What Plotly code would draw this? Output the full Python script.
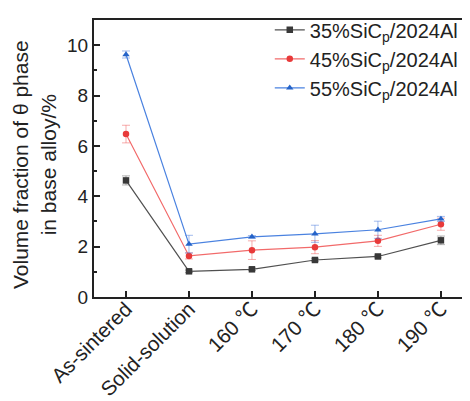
import plotly.graph_objects as go

categories = ["As-sintered", "Solid-solution", "160 ℃", "170 ℃", "180 ℃", "190 ℃"]
series_names = ["35%SiC<sub>p</sub>/2024Al", "45%SiC<sub>p</sub>/2024Al", "55%SiC<sub>p</sub>/2024Al"]
vals_35 = [4.63, 1.02, 1.10, 1.47, 1.61, 2.25]
err_35 = [0.18, 0.05, 0.05, 0.05, 0.05, 0.17]
vals_45 = [6.47, 1.63, 1.86, 1.98, 2.23, 2.89]
err_45 = [0.35, 0.12, 0.37, 0.26, 0.22, 0.24]
vals_55 = [9.63, 2.10, 2.39, 2.51, 2.67, 3.10]
err_55 = [0.14, 0.35, 0.05, 0.34, 0.34, 0.10]
y_ticks = [0, 2, 4, 6, 8, 10]

styles = [
    dict(line="#505050", marker="#383838", err="rgba(80,80,80,0.45)", symbol="square"),
    dict(line="#f26a6a", marker="#e83a3a", err="rgba(240,90,90,0.5)", symbol="circle"),
    dict(line="#4a82e0", marker="#2563c8", err="rgba(70,120,220,0.5)", symbol="triangle-up"),
]

fig = go.Figure()
for name, vals, errs, st in zip(series_names, [vals_35, vals_45, vals_55],
                                [err_35, err_45, err_55], styles):
    fig.add_trace(go.Scatter(
        x=categories, y=vals, name=name, mode="lines+markers",
        line=dict(color=st["line"], width=1.2),
        marker=dict(color=st["marker"], symbol=st["symbol"], size=6.5),
        error_y=dict(type="data", array=errs, visible=True, color=st["err"],
                     thickness=1, width=4),
    ))

fig.update_layout(
    width=462, height=393,
    margin=dict(l=86, r=2, t=2, b=104),
    paper_bgcolor="white", plot_bgcolor="white",
    font=dict(family="Liberation Sans, Arial, Noto Sans CJK SC, sans-serif", size=18, color="#222"),
    showlegend=True,
    legend=dict(x=0.47, y=1.035, xanchor="left", yanchor="top",
                bgcolor="rgba(0,0,0,0)", font=dict(size=20, color="#222"),
                tracegroupgap=0, itemwidth=30),
    xaxis=dict(type="category", categoryorder="array", categoryarray=categories,
               range=[-0.508, 5.43], showline=True, linecolor="#222", linewidth=2,
               mirror=True, ticks="inside", ticklen=6, tickwidth=1.5, tickcolor="#222",
               tickangle=-45, showgrid=False, zeroline=False, automargin=False,
               ticklabelstandoff=-10,
               tickfont=dict(size=20.5, color="#222")),
    yaxis=dict(range=[0, 11], tickvals=y_ticks, showline=True, linecolor="#222",
               linewidth=2, ticks="inside", ticklen=6, tickwidth=1.5, tickcolor="#222",
               minor=dict(ticks="inside", dtick=1, ticklen=3, tickcolor="#222"),
               showgrid=False, zeroline=False, automargin=False,
               tickfont=dict(size=19, color="#222")),
    annotations=[dict(
        text="Volume fraction of θ phase<br>in base alloy/%", textangle=-90,
        xref="paper", yref="paper", x=-0.16, y=0.477, xanchor="center", yanchor="middle",
        showarrow=False, font=dict(size=21, color="#222"),
    )],
)

fig.write_html("out.html")
